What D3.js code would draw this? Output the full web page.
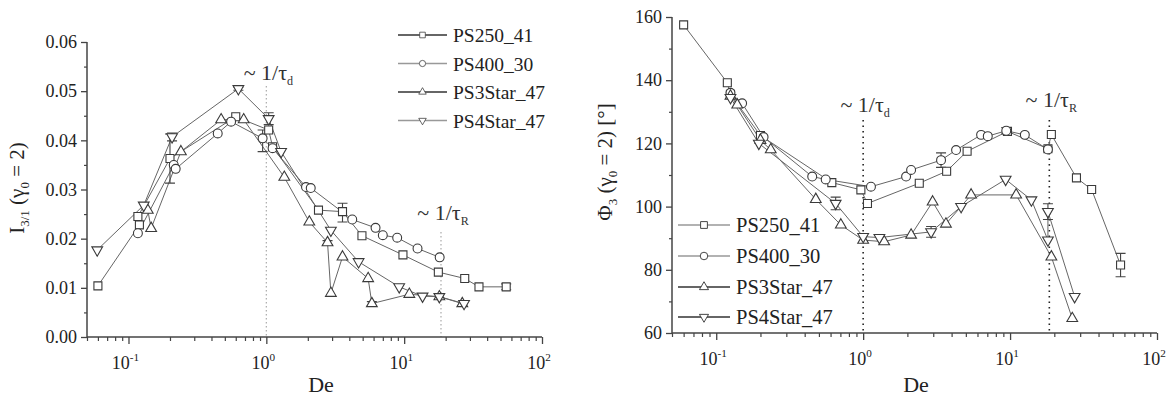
<!DOCTYPE html>
<html><head><meta charset="utf-8">
<script src="https://cdn.jsdelivr.net/npm/d3@7"></script>
</head><body style="margin:0;background:#fff"><svg id="c" width="1171" height="398" style="display:block"></svg>
<script>
// ---------- data ----------
const seriesNames = ["PS250_41", "PS400_30", "PS3Star_47", "PS4Star_47"];
const seriesSymbols = ["square", "circle", "triangle", "triangleDown"];

// Left panel: I3/1 (gamma0 = 2) vs De  -> [De, value]
const i31_PS250 = [[0.06,0.0104],[0.12,0.0228],[0.117,0.0245],[0.2,0.0363],[0.6,0.0448],[1.04,0.0421],[1.11,0.0387],[2.39,0.0258],[3.57,0.0255],[4.94,0.0206],[9.8,0.0167],[17.7,0.0132],[27.5,0.0119],[34.9,0.0102],[55,0.0102]];
const i31_PS400 = [[0.117,0.0211],[0.213,0.035],[0.22,0.0342],[0.444,0.0414],[0.555,0.0438],[0.94,0.0404],[1.11,0.0384],[1.94,0.0305],[2.1,0.0303],[4.2,0.0239],[6.2,0.0222],[7.0,0.0207],[8.9,0.0202],[12.5,0.018],[18.1,0.0162]];
const i31_PS3Star = [[0.138,0.0258],[0.146,0.0221],[0.24,0.0377],[0.47,0.0442],[0.685,0.0442],[1.35,0.0325],[2.05,0.0234],[2.78,0.0192],[2.94,0.0089],[3.57,0.0163],[5.48,0.0119],[5.83,0.0068],[10.9,0.0087],[18,0.0082],[26.4,0.0068]];
const i31_PS4Star = [[0.0593,0.0177],[0.129,0.0268],[0.207,0.0407],[0.627,0.0505],[1.04,0.0444],[1.28,0.0377],[2.94,0.0217],[4.67,0.0153],[9.2,0.0102],[13.6,0.0083],[18.0,0.0082],[27.2,0.0068]];
// error bars: [seriesIndex, De, value, halfWidth]
const i31Errors = [[3,0.207,0.0407,0.0008],[3,0.627,0.0505,0.0003],[3,1.04,0.0444,0.0012],[1,0.94,0.0399,0.0022],[0,0.2,0.0363,0.005],[0,3.57,0.0253,0.0019],[0,55,0.0102,0.0006],[2,2.78,0.0192,0.0004],[2,5.83,0.0068,0.0004]];

// Right panel: Phi3 (gamma0 = 2) [deg] vs De
const phi3_PS250 = [[0.06,157.5],[0.119,139.2],[0.125,135.5],[0.2,122.5],[0.612,107.6],[0.965,105.3],[1.07,101],[2.41,107.4],[3.7,111.2],[5.1,117.5],[9.6,123.8],[18.1,118.3],[19.1,122.8],[28.3,109.1],[35.9,105.4],[56.5,81.5]];
const phi3_PS400 = [[0.125,136],[0.15,132.7],[0.21,122],[0.45,109.5],[0.556,108.6],[1.13,106.3],[1.96,109.5],[2.12,111.6],[3.39,114.7],[4.29,117.9],[6.35,122.7],[7.05,122.3],[9.42,124],[12.6,122.7],[18.1,118.1]];
const phi3_PS3Star = [[0.125,135],[0.139,132.2],[0.2,121],[0.235,118],[0.476,102.3],[0.705,94.2],[1.0,89.4],[1.39,88.9],[2.12,91],[2.97,101.5],[3.66,94.5],[5.43,103.7],[11.0,103.7],[19.1,84.1],[26.5,64.6]];
const phi3_PS4Star = [[0.125,134.5],[0.195,120],[0.65,101],[1.0,90.5],[1.29,90.2],[2.9,92],[4.64,100],[9.33,108.6],[13.97,102.1],[18.1,89.4],[18.1,98.4],[27.5,71.5]];
const phi3Errors = [[0,56.5,81.5,3.7],[1,3.39,114.7,2.3],[3,0.65,101,2],[3,18.1,98.4,2.5],[3,2.9,92,1.7],[1,9.42,124,1]];

const xTickValues = [0.1, 1, 10, 100];
const xTickExponents = ["-1", "0", "1", "2"];
const i31Ticks = [0, 0.01, 0.02, 0.03, 0.04, 0.05, 0.06];
const i31TickLabels = ["0.00","0.01","0.02","0.03","0.04","0.05","0.06"];
const phi3Ticks = [60, 80, 100, 120, 140, 160];
const deDisentangle = 1, deRouse = 18.5;

// ---------- drawing ----------
const FONT = "'Liberation Serif', 'Times New Roman', serif";
const svg = d3.select("#c");
const AX = "#444";

function symbolPath(kind) {
  if (kind === "square") return d3.symbol(d3.symbolSquare, 64)();
  if (kind === "circle") return d3.symbol(d3.symbolCircle, 62)();
  return d3.symbol(d3.symbolTriangle, 50)();
}
function drawMarker(g, kind, x, y, scale) {
  g.append("path").attr("d", symbolPath(kind))
    .attr("transform", `translate(${x},${y}) scale(${scale || 1})` + (kind === "triangleDown" ? " rotate(180)" : ""))
    .attr("fill", "#fff").attr("stroke", "#3a3a3a").attr("stroke-width", 1.1);
}
function rich(textSel, parts) {
  let shift = 0;
  textSel.style("font-family", FONT);
  parts.forEach(p => {
    const t = textSel.append("tspan").text(p.t);
    const target = p.sub ? 5 : p.sup ? -8 : 0;
    if (target !== shift) { t.attr("dy", target - shift); shift = target; }
    if (p.sub || p.sup) t.attr("font-size", p.fs || "0.62em");
  });
}

function panel(cfg) {
  const x = d3.scaleLog().domain([0.05, 100]).range([cfg.x0, cfg.x1]);
  const y = d3.scaleLinear().domain(cfg.ydom).range([cfg.yBot, cfg.yTop]);
  const g = svg.append("g");

  // annotation lines
  [[deDisentangle, cfg.dY0], [deRouse, cfg.rY0]].forEach(([v, y0]) => {
    g.append("line").attr("x1", x(v)).attr("x2", x(v)).attr("y1", y0).attr("y2", cfg.yBot)
      .attr("stroke", cfg.dotColor).attr("stroke-width", cfg.dotW).attr("stroke-dasharray", cfg.dash);
  });
  // annotation text
  [[deDisentangle, "d", cfg.dTy], [deRouse, "R", cfg.rTy]].forEach(([v, s, ty]) => {
    const t = g.append("text").attr("x", x(v) + 2).attr("y", ty).attr("text-anchor", "middle")
      .attr("font-size", 22).attr("fill", "#333");
    rich(t, [{t: "~ 1/τ"}, {t: s, sub: true, fs: "0.55em"}]);
  });

  // axes
  const yAxis = d3.axisLeft(y).tickValues(cfg.yTicks).tickSize(6).tickPadding(4)
    .tickFormat((d, i) => cfg.yLabels ? cfg.yLabels[i] : d);
  const ya = g.append("g").attr("transform", `translate(${cfg.x0},0)`).call(yAxis);
  ya.select(".domain").remove();
  ya.selectAll("line").attr("stroke", AX).attr("stroke-width", 1.3);
  ya.selectAll("text").attr("font-size", 18).attr("fill", "#222").style("font-family", FONT);
  const yMinor = d3.axisLeft(y).tickValues(cfg.yMinor).tickSize(3).tickFormat("");
  const ym = g.append("g").attr("transform", `translate(${cfg.x0},0)`).call(yMinor);
  ym.select(".domain").remove();
  ym.selectAll("line").attr("stroke", AX).attr("stroke-width", 1.2);

  const minorX = [];
  [0.01, 0.1, 1, 10].forEach(b => { for (let k = 2; k <= 9; k++) { const v = b * k; if (v >= 0.05 && v < 100) minorX.push(v); } });
  const xm = g.append("g").attr("transform", `translate(0,${cfg.yBot})`)
    .call(d3.axisBottom(x).tickValues(minorX).tickSize(4).tickFormat(""));
  xm.select(".domain").remove();
  xm.selectAll("line").attr("stroke", AX).attr("stroke-width", 1.2);
  const xa = g.append("g").attr("transform", `translate(0,${cfg.yBot})`)
    .call(d3.axisBottom(x).tickValues(xTickValues).tickSize(7).tickFormat(""));
  xa.select(".domain").remove();
  xa.selectAll("line").attr("stroke", AX).attr("stroke-width", 1.3);
  xTickValues.forEach((v, i) => {
    const t = g.append("text").attr("x", x(v) - 3).attr("y", cfg.yBot + 32).attr("text-anchor", "middle")
      .attr("font-size", 18).attr("fill", "#222");
    rich(t, [{t: "10"}, {t: xTickExponents[i], sup: true, fs: "0.62em"}]);
  });
  g.append("line").attr("x1", cfg.x0).attr("x2", cfg.x0).attr("y1", cfg.yTop).attr("y2", cfg.yBot).attr("stroke", AX).attr("stroke-width", 1.5);
  g.append("line").attr("x1", cfg.x0).attr("x2", cfg.x1).attr("y1", cfg.yBot).attr("y2", cfg.yBot).attr("stroke", AX).attr("stroke-width", 1.5);

  // axis titles
  g.append("text").attr("x", cfg.deX).attr("y", 392).attr("font-size", 22).attr("fill", "#222")
    .style("font-family", FONT).attr("text-anchor", "middle").text("De");
  const yl = g.append("text").attr("transform", `translate(${cfg.ylX},${cfg.ylY}) rotate(-90)`)
    .attr("text-anchor", "middle").attr("font-size", 21).attr("fill", "#222");
  rich(yl, cfg.ylParts);

  // series
  const line = d3.line().x(d => x(d[0])).y(d => y(d[1]));
  cfg.series.forEach((data) => {
    g.append("path").attr("d", line(data)).attr("fill", "none").attr("stroke", "#666").attr("stroke-width", 1);
  });
  cfg.errors.forEach(([si, de, v, h]) => {
    const cx = x(de);
    g.append("path").attr("d", `M${cx},${y(v - h)}V${y(v + h)}M${cx - 5},${y(v - h)}h10M${cx - 5},${y(v + h)}h10`)
      .attr("stroke", "#444").attr("stroke-width", 1.1).attr("fill", "none");
  });
  cfg.series.forEach((data, si) => {
    data.forEach(d => drawMarker(g, seriesSymbols[si], x(d[0]), y(d[1]), 1));
  });

  // legend
  seriesNames.forEach((name, i) => {
    const ly = cfg.legY[i];
    g.append("line").attr("x1", cfg.legX).attr("x2", cfg.legX + cfg.legLen).attr("y1", ly).attr("y2", ly)
      .attr("stroke", cfg.legColors[i]).attr("stroke-width", 1.3);
    drawMarker(g, seriesSymbols[i], cfg.legX + cfg.legLen / 2, ly, cfg.legScale);
    g.append("text").attr("x", cfg.legX + cfg.legLen + 6).attr("y", ly + 7).attr("font-size", cfg.legFont)
      .style("font-family", FONT).attr("fill", "#222").text(name);
  });
}

panel({
  x0: 87, x1: 542, yTop: 42, yBot: 337, ydom: [0, 0.06],
  yTicks: i31Ticks, yLabels: i31TickLabels,
  yMinor: [0.005, 0.015, 0.025, 0.035, 0.045, 0.055],
  series: [i31_PS250, i31_PS400, i31_PS3Star, i31_PS4Star], errors: i31Errors,
  dotColor: "#aaa", dotW: 1.2, dash: "1.5,2.5", dY0: 86, rY0: 232, dTy: 80, rTy: 220,
  deX: 321, ylX: 24, ylY: 188,
  ylParts: [{t: "I"}, {t: "3/1", sub: true}, {t: " (γ"}, {t: "0", sub: true}, {t: " = 2)"}],
  legX: 398, legLen: 49, legY: [35, 63.5, 92, 120.5], legColors: ["#333", "#999", "#333", "#999"], legScale: 0.7, legFont: 19.5
});
panel({
  x0: 672, x1: 1157, yTop: 17, yBot: 333, ydom: [60, 160],
  yTicks: phi3Ticks, yLabels: null,
  yMinor: [70, 90, 110, 130, 150],
  series: [phi3_PS250, phi3_PS400, phi3_PS3Star, phi3_PS4Star], errors: phi3Errors,
  dotColor: "#222", dotW: 1.6, dash: "1.5,4", dY0: 120, rY0: 120, dTy: 112, rTy: 107,
  deX: 916, ylX: 612, ylY: 162,
  ylParts: [{t: "Φ"}, {t: "3", sub: true}, {t: " (γ"}, {t: "0", sub: true}, {t: " = 2) [°]"}],
  legX: 678, legLen: 52, legY: [225, 256, 287, 317], legColors: ["#999", "#999", "#333", "#333"], legScale: 0.85, legFont: 20.5
});
</script></body></html>
